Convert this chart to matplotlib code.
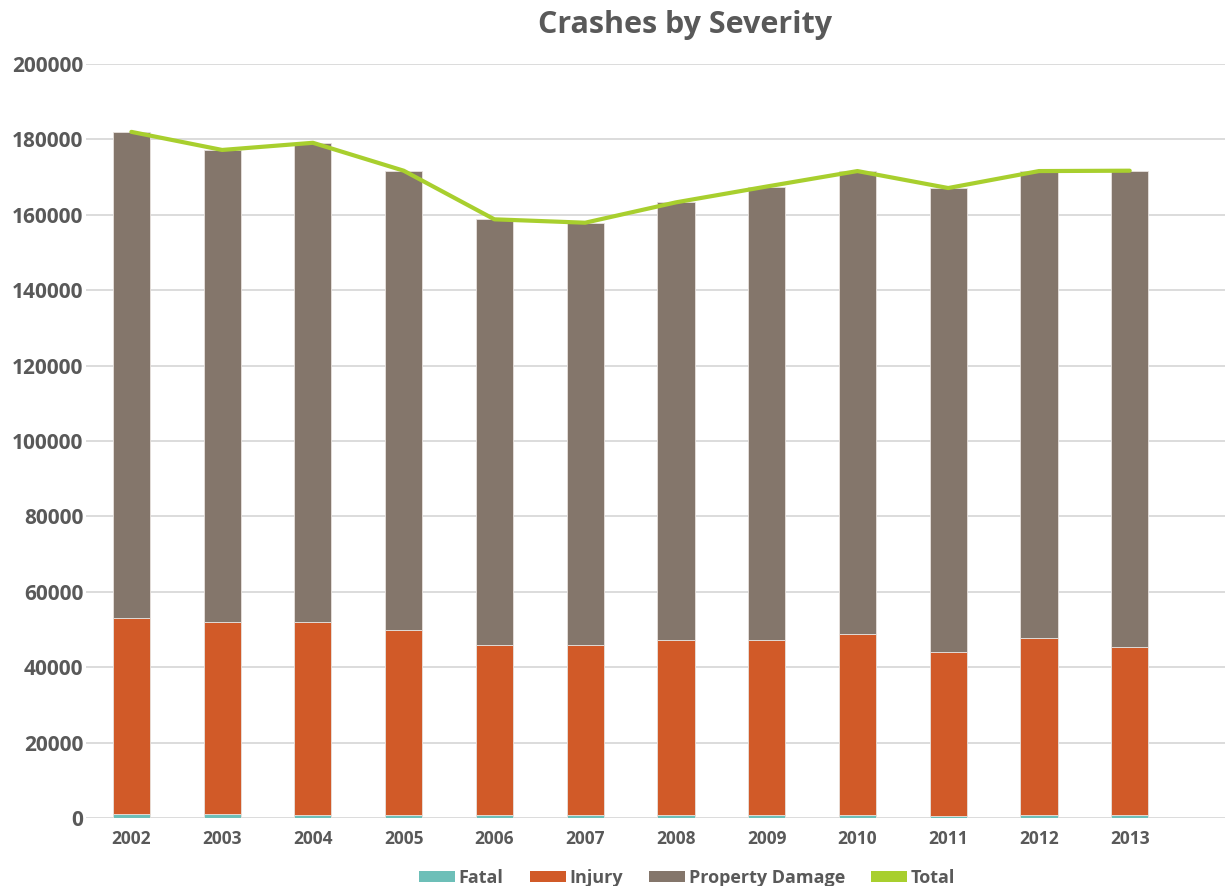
import matplotlib
matplotlib.use("Agg")
import matplotlib.pyplot as plt
from matplotlib.patches import Patch
import numpy as np

years = ["2002", "2003", "2004", "2005", "2006", "2007", "2008", "2009", "2010", "2011", "2012", "2013"]
fatal = [1100, 1050, 800, 800, 750, 720, 700, 700, 680, 650, 700, 720]
injury = [51900, 51050, 51300, 49000, 45050, 45080, 46600, 46600, 48120, 43250, 47100, 44580]
property_damage = [129000, 125100, 127000, 121900, 113000, 112100, 116000, 120200, 122800, 123200, 123800, 126400]
total = [182000, 177200, 179100, 171700, 158800, 157900, 163300, 167500, 171600, 167100, 171600, 171700]

C_FATAL = "#6DBFB8"
C_INJ = "#D15A28"
C_PD = "#84766B"
C_TOT = "#A8CF2E"
TXT = "#595959"

plt.rcParams['font.family'] = ['Open Sans', 'DejaVu Sans']

fig = plt.figure(figsize=(12.27, 8.86), dpi=100)
ax = fig.add_axes([86/1227, 1-818/886, (1225-86)/1227, (818-64)/886])

x = np.arange(len(years))
w = 0.41
f = np.array(fatal); i = np.array(injury); p = np.array(property_damage)
ec = "#E8E2DE"
ax.bar(x, f, w, color=C_FATAL, edgecolor=ec, linewidth=0.6, zorder=3)
ax.bar(x, i, w, bottom=f, color=C_INJ, edgecolor=ec, linewidth=0.6, zorder=3)
ax.bar(x, p, w, bottom=f+i, color=C_PD, edgecolor=ec, linewidth=0.6, zorder=3)
ax.plot(x, total, color=C_TOT, linewidth=3, zorder=4, solid_capstyle='round')

ax.set_xlim(-0.5, 12.05)
ax.set_ylim(0, 200000)
ax.set_yticks(np.arange(0, 200001, 20000))
ax.set_yticklabels([str(v) for v in range(0, 200001, 20000)])
ax.set_xticks(x)
ax.set_xticklabels(years)
ax.grid(axis='y', color="#D9D9D9", linewidth=1.3, zorder=0)
ax.set_axisbelow(True)
for s in ax.spines.values():
    s.set_visible(False)
ax.tick_params(axis='both', length=0, colors=TXT)
ax.tick_params(axis='y', pad=2, labelsize=15)
ax.tick_params(axis='x', pad=9, labelsize=12.5)
for lbl in ax.get_yticklabels() + ax.get_xticklabels():
    lbl.set_fontweight('bold')
    lbl.set_color(TXT)

fig.text(685/1227, 1-25/886, "Crashes by Severity", ha='center', va='center',
         fontsize=22, fontweight='bold', color=TXT)

handles = [Patch(facecolor=C_FATAL), Patch(facecolor=C_INJ), Patch(facecolor=C_PD), Patch(facecolor=C_TOT)]
labels = ["Fatal", "Injury", "Property Damage", "Total"]
leg = fig.legend(handles, labels, loc='center', bbox_to_anchor=(687/1227, 1-878/886), ncol=4,
                 frameon=False, handlelength=2.0, handleheight=0.55, handletextpad=0.2,
                 columnspacing=1.45, borderpad=0.1, prop={'weight': 'bold', 'size': 13})
for t in leg.get_texts():
    t.set_color(TXT)

fig.savefig("out.png", dpi=100)
